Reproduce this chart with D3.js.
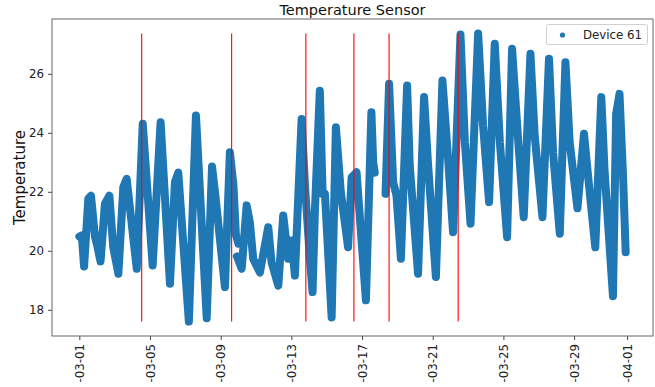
<!DOCTYPE html>
<html>
<head>
<meta charset="utf-8">
<script src="https://cdn.jsdelivr.net/npm/d3@7"></script>
<style>
  body { margin: 0; background: #fff; }
  text { font-family: "DejaVu Sans", sans-serif; }
</style>
</head>
<body>
<svg id="chart" width="655" height="387"></svg>
<script>
// readings: days since 2023-03-01 00:00 and temperature, split where the sensor dropped out
const days1 = [0.00, 0.14, 0.27, 0.51, 0.66, 0.89, 1.00, 1.20, 1.45, 1.70, 1.92, 2.21, 2.49, 2.68, 3.25, 3.59, 4.15, 4.60,
  5.13, 5.41, 5.60, 6.20, 6.60, 7.21, 7.51, 7.68, 8.24, 8.52, 8.72, 8.86, 9.00];
const temps1 = [20.48, 20.52, 19.47, 21.77, 21.87, 20.46, 20.21, 19.64, 21.60, 21.87, 20.12, 19.22, 22.16, 22.44, 19.39, 24.31, 19.50, 24.36,
  18.88, 22.33, 22.65, 17.60, 24.59, 17.71, 22.86, 21.99, 18.77, 23.34, 22.24, 20.55, 20.24];

const days2 = [8.92, 9.19, 9.47, 9.65, 9.84, 10.22, 10.69, 10.88, 11.26, 11.54, 11.82, 12.01, 12.20, 12.58, 12.77, 13.05, 13.20,
  13.33, 13.61, 13.77, 13.90, 14.28, 14.52, 14.80, 15.21, 15.41, 15.69, 16.22, 16.53, 16.63, 16.72];
const temps2 = [19.81, 19.39, 21.54, 20.97, 19.73, 19.26, 20.80, 19.61, 18.82, 21.20, 19.73, 20.35, 19.16, 24.47, 22.21, 19.73, 18.60,
  21.31, 25.43, 21.93, 21.93, 17.74, 24.19, 21.98, 20.12, 22.49, 22.66, 18.32, 24.70, 23.00, 22.65];

const days3 = [17.33, 17.53, 17.76, 17.95, 18.20, 18.55, 18.70, 19.17, 19.51, 19.74, 20.18, 20.55, 20.87, 21.15, 21.57, 21.82,
  22.14, 22.57, 22.85, 23.19, 23.51, 23.80, 24.21, 24.49, 24.83, 25.15, 25.53, 25.77, 26.21, 26.58, 26.81, 27.19, 27.51,
  27.75, 28.19, 28.56, 28.79, 29.20, 29.54, 29.73, 30.20, 30.38, 30.57, 30.77, 30.92];
const temps3 = [21.93, 25.66, 22.33, 21.87, 19.73, 25.60, 22.89, 19.22, 25.21, 22.89, 19.11, 25.77, 23.12, 20.63, 27.33, 23.68,
  20.92, 27.37, 24.25, 21.65, 27.02, 23.68, 20.46, 26.85, 23.80, 21.14, 26.68, 23.91, 21.14, 26.51, 23.34, 20.58, 26.39,
  23.68, 21.44, 23.97, 22.55, 20.12, 25.21, 22.66, 18.46, 24.64, 25.32, 22.55, 19.95];

// red markers (days since start)
const eventDays = [3.53, 8.62, 12.82, 15.54, 17.53, 21.44];

const tickLabels = ["2023-03-01", "2023-03-05", "2023-03-09", "2023-03-13", "2023-03-17", "2023-03-21",
  "2023-03-25", "2023-03-29", "2023-04-01"];
const yTicks = [18, 20, 22, 24, 26];

const start = Date.UTC(2023, 2, 1);
const toDate = d => new Date(start + d * 864e5);

const segments = [[days1, temps1], [days2, temps2], [days3, temps3]]
  .map(([ds, ts]) => ds.map((d, i) => ({ t: toDate(d), v: ts[i] })));
const all = segments.flat();

const plotLeft = 52, plotRight = 653, plotTop = 19, plotBottom = 336;

// matplotlib style 5% margins
function pad(ext) {
  const r = ext[1] - ext[0];
  return [ext[0] - r * 0.05, ext[1] + r * 0.05];
}
const xd = pad(d3.extent(all, d => +d.t));
const x = d3.scaleUtc().domain([new Date(xd[0]), new Date(xd[1])]).range([plotLeft, plotRight]);
const yExt = d3.extent(all, d => d.v);
const y = d3.scaleLinear().domain(pad(yExt)).range([plotBottom, plotTop]);

const svg = d3.select('#chart');

// dense readings drawn as a thick rounded trace
const line = d3.line().x(d => x(d.t)).y(d => y(d.v));
svg.append('g')
  .selectAll('path')
  .data(segments)
  .enter()
  .append('path')
  .attr('d', line)
  .attr('fill', 'none')
  .attr('stroke', '#1f77b4')
  .attr('stroke-width', 8)
  .attr('stroke-linecap', 'round')
  .attr('stroke-linejoin', 'round');

// event lines span data min..max
svg.append('g')
  .selectAll('line')
  .data(eventDays)
  .enter()
  .append('line')
  .attr('x1', d => x(toDate(d)))
  .attr('x2', d => x(toDate(d)))
  .attr('y1', y(yExt[0]))
  .attr('y2', y(yExt[1]))
  .attr('stroke', 'red')
  .attr('stroke-width', 1.1);

// axes
const xAxis = d3.axisBottom(x)
  .tickValues(tickLabels.map(d3.utcParse('%Y-%m-%d')))
  .tickFormat(d3.utcFormat('-%m-%d'))
  .tickSize(4)
  .tickPadding(4);
const gx = svg.append('g').attr('transform', `translate(0,${plotBottom})`).call(xAxis);
gx.select('.domain').remove();
gx.selectAll('line').attr('stroke', '#444');
gx.selectAll('text')
  .attr('transform', 'rotate(-90)')
  .attr('x', -8)
  .attr('y', 0)
  .attr('dy', '0.35em')
  .attr('text-anchor', 'end')
  .attr('font-size', '11.8px')
  .attr('font-family', '"DejaVu Sans", sans-serif')
  .attr('fill', '#222');

const yAxis = d3.axisLeft(y).tickValues(yTicks).tickSize(4).tickPadding(4);
const gy = svg.append('g').attr('transform', `translate(${plotLeft},0)`).call(yAxis);
gy.select('.domain').remove();
gy.selectAll('line').attr('stroke', '#444');
gy.selectAll('text')
  .attr('font-size', '11.8px')
  .attr('font-family', '"DejaVu Sans", sans-serif')
  .attr('fill', '#222');

// frame
svg.append('rect')
  .attr('x', plotLeft).attr('y', plotTop)
  .attr('width', plotRight - plotLeft).attr('height', plotBottom - plotTop)
  .attr('fill', 'none')
  .attr('stroke', '#666')
  .attr('stroke-width', 1);

// title and y label
svg.append('text')
  .attr('x', (plotLeft + plotRight) / 2).attr('y', 15)
  .attr('text-anchor', 'middle')
  .attr('font-size', '14.5px')
  .attr('fill', '#111')
  .text('Temperature Sensor');

svg.append('text')
  .attr('transform', `translate(25,${(plotTop + plotBottom) / 2}) rotate(-90)`)
  .attr('text-anchor', 'middle')
  .attr('font-size', '15px')
  .attr('fill', '#111')
  .text('Temperature');

// legend
const lg = svg.append('g');
lg.append('rect')
  .attr('x', 546.5).attr('y', 24.5)
  .attr('width', 101).attr('height', 20)
  .attr('rx', 2)
  .attr('fill', 'white').attr('fill-opacity', 0.8)
  .attr('stroke', '#d0d0d0');
lg.append('circle')
  .attr('cx', 562.5).attr('cy', 35)
  .attr('r', 2.6)
  .attr('fill', '#1f77b4');
lg.append('text')
  .attr('x', 583).attr('y', 39)
  .attr('font-size', '11.8px')
  .attr('fill', '#222')
  .text('Device 61');
</script>
</body>
</html>
